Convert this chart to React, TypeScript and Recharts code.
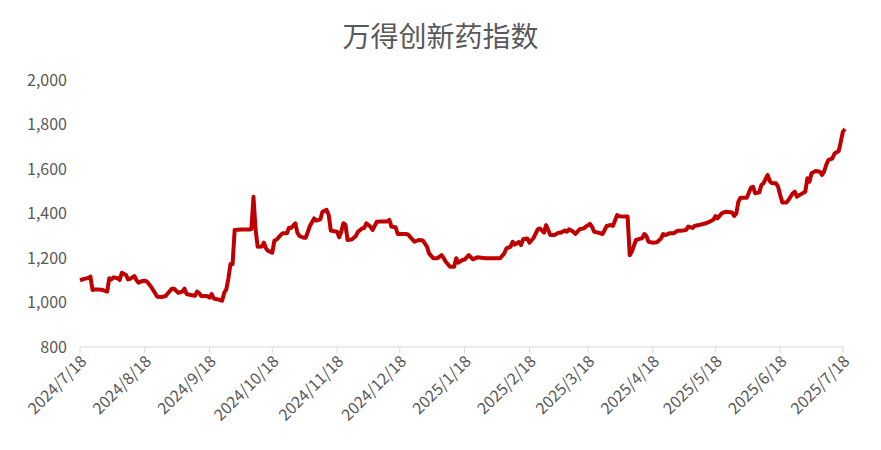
import { LineChart, Line, XAxis, YAxis } from 'recharts';

// days since 2024/7/18
const dayOffsets = [
  0, 2, 4, 5, 6, 7, 9, 11, 13, 14, 15, 16, 18, 19, 20, 22, 23, 24, 26, 27, 28, 30, 31, 32, 34, 36, 37, 39, 41, 42,
  44, 45, 47, 49, 50, 51, 52, 53, 55, 56, 57, 58, 60, 61, 62, 63, 64, 65, 66, 68, 69, 70, 71, 72, 73, 74, 77, 79, 81, 82,
  83, 84, 85, 87, 88, 89, 90, 92, 93, 94, 96, 97, 99, 100, 101, 103, 104, 105, 107, 108, 110, 112, 113, 115, 116, 118, 119, 120, 123, 124,
  125, 126, 127, 128, 130, 132, 133, 135, 136, 137, 139, 140, 142, 144, 147, 148, 149, 151, 152, 156, 157, 159, 160, 162, 164, 166, 167, 169, 171, 173,
  174, 175, 177, 179, 180, 181, 183, 184, 186, 188, 190, 192, 194, 196, 199, 201, 203, 204, 206, 207, 208, 210, 211, 212, 214, 215, 217, 219, 220, 222,
  223, 225, 227, 229, 230, 232, 233, 234, 236, 237, 239, 241, 242, 244, 245, 246, 248, 250, 252, 254, 255, 257, 258, 260, 262, 263, 264, 266, 267, 269,
  270, 271, 272, 274, 276, 278, 279, 280, 282, 284, 286, 288, 290, 291, 293, 294, 296, 299, 301, 303, 304, 305, 307, 309, 312, 313, 314, 315, 316, 319,
  321, 322, 323, 325, 326, 327, 329, 330, 331, 333, 334, 335, 336, 338, 339, 341, 342, 343, 345, 347, 348, 349, 350, 352, 354, 355, 356, 357, 358, 360,
  361, 363, 364, 365, 366,
];

const indexValues = [
  1100, 1106, 1110, 1116, 1056, 1059, 1058, 1056, 1049, 1109, 1104, 1113, 1109, 1101, 1134, 1124, 1104, 1106, 1119, 1101, 1089, 1097, 1098, 1094, 1071, 1041, 1026, 1025, 1029, 1041,
  1062, 1062, 1044, 1049, 1062, 1038, 1036, 1034, 1030, 1049, 1042, 1029, 1029, 1028, 1022, 1038, 1018, 1016, 1014, 1008, 1044, 1059, 1109, 1173, 1173, 1326, 1328, 1328, 1328, 1330,
  1475, 1329, 1251, 1252, 1269, 1243, 1232, 1224, 1278, 1282, 1303, 1311, 1311, 1336, 1335, 1356, 1314, 1299, 1291, 1291, 1344, 1378, 1368, 1374, 1408, 1416, 1393, 1323, 1318, 1293,
  1318, 1356, 1350, 1281, 1283, 1299, 1318, 1333, 1335, 1356, 1340, 1326, 1363, 1364, 1364, 1371, 1341, 1338, 1308, 1308, 1305, 1284, 1273, 1281, 1279, 1251, 1221, 1199, 1199, 1213,
  1199, 1183, 1161, 1161, 1199, 1179, 1191, 1193, 1213, 1194, 1203, 1201, 1199, 1199, 1199, 1199, 1221, 1243, 1251, 1273, 1260, 1272, 1258, 1284, 1288, 1269, 1290, 1329, 1333, 1314,
  1348, 1303, 1303, 1314, 1314, 1323, 1318, 1329, 1318, 1308, 1329, 1333, 1341, 1353, 1340, 1318, 1314, 1308, 1344, 1348, 1345, 1393, 1388, 1386, 1386, 1213, 1228, 1281, 1284, 1290,
  1308, 1298, 1273, 1269, 1271, 1288, 1308, 1303, 1311, 1311, 1323, 1323, 1326, 1341, 1335, 1344, 1348, 1355, 1362, 1372, 1388, 1378, 1401, 1408, 1405, 1389, 1400, 1453, 1471, 1471,
  1516, 1520, 1491, 1495, 1528, 1536, 1573, 1546, 1536, 1536, 1520, 1483, 1450, 1450, 1461, 1491, 1498, 1476, 1487, 1498, 1558, 1543, 1581, 1591, 1588, 1573, 1588, 1618, 1640, 1648,
  1670, 1681, 1723, 1768, 1780,
];

const tickDays = [0, 31, 62, 92, 123, 153, 184, 215, 243, 274, 304, 335, 365];
const tickLabels = [
  '2024/7/18', '2024/8/18', '2024/9/18', '2024/10/18', '2024/11/18', '2024/12/18', '2025/1/18',
  '2025/2/18', '2025/3/18', '2025/4/18', '2025/5/18', '2025/6/18', '2025/7/18',
];
const yTicks = [800, 1000, 1200, 1400, 1600, 1800, 2000];

const data = dayOffsets.map((d, i) => ({ day: d, value: indexValues[i] }));

const FONT = '"Noto Sans CJK SC", "Noto Sans", sans-serif';
const GREY = '#595959';

const DateTick = (props: any) => {
  const { x, y, payload } = props;
  const label = tickLabels[tickDays.indexOf(payload.value)] ?? '';
  return (
    <g transform={`translate(${x + 4},${y + 4})`}>
      <text transform="rotate(-45)" textAnchor="end" fill={GREY} fontSize={16} fontFamily={FONT} dy={5}>
        {label}
      </text>
    </g>
  );
};

export default function App() {
  return (
    <div style={{ position: 'absolute', left: 0, top: 0, width: 881, height: 450, background: '#fff' }}>
      <div
        style={{
          position: 'absolute', left: 0, top: 15, width: 881, textAlign: 'center',
          fontFamily: FONT, fontSize: 28, color: GREY,
        }}
      >
        万得创新药指数
      </div>
      <LineChart width={881} height={450} data={data} margin={{ top: 80, right: 36, bottom: 0, left: 0 }}>
        <XAxis
          dataKey="day"
          type="number"
          domain={[0, 366]}
          ticks={tickDays}
          interval={0}
          height={103}
          stroke="#d9d9d9"
          tickSize={6}
          tick={<DateTick />}
        />
        <YAxis
          domain={[800, 2000]}
          ticks={yTicks}
          width={80}
          axisLine={false}
          tickLine={false}
          tickSize={0}
          tickMargin={13}
          tick={{ fill: GREY, fontSize: 16, fontFamily: FONT }}
          tickFormatter={(v: number) => v.toLocaleString('en-US')}
        />
        <Line
          dataKey="value"
          stroke="#c00000"
          strokeWidth={4}
          dot={false}
          isAnimationActive={false}
          strokeLinejoin="round"
        />
      </LineChart>
    </div>
  );
}
